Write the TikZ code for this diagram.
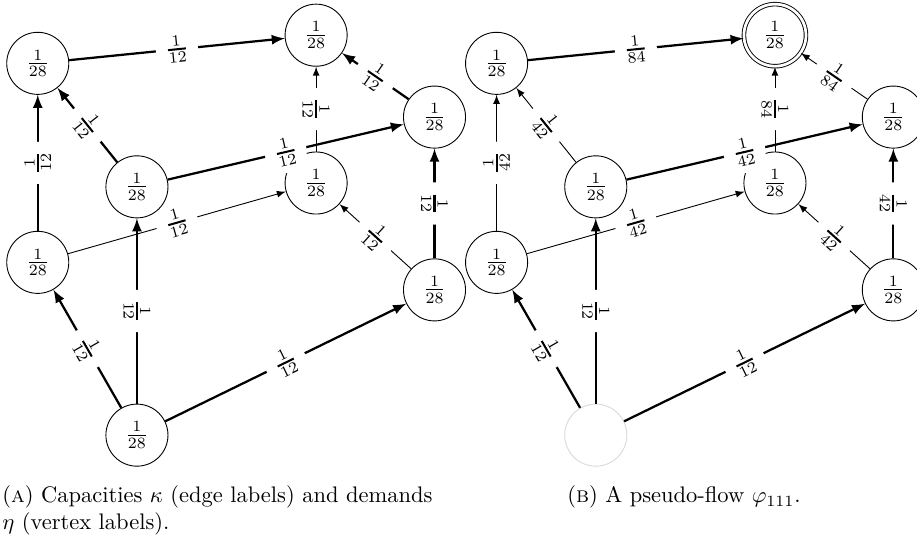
\documentclass[tikz,border=0pt]{standalone}
\usepackage{amssymb}
\usepackage{amsmath}
\usepackage{tikz}
\usetikzlibrary{arrows,calc,positioning}
\newcommand{\wfrac}[2]{\genfrac{}{}{0.9pt}{}{#1}{#2}}
\tikzset{%
	vertex/.style = {draw, circle, minimum size=0.97cm, inner sep=0pt},
	sink/.style   = {vertex, double, double distance=1.2pt},
	ghost/.style  = {draw=black!15, circle, minimum size=0.97cm, inner sep=0pt},
	weight/.style = {circle, fill=white, inner sep=0pt, minimum size=0.66cm},
	heavy/.style  = {-latex, line width=1pt},
	light/.style  = {-latex, line width=0.4pt},
}

\begin{document}
\begin{tikzpicture}
	\useasboundingbox (0,0) rectangle (14.33,8.55);
	
	% (a) capacities and demands
	\node[vertex] (la) at (0.59,7.56) {$\frac{1}{28}$};
	\node[vertex] (lb) at (4.94,8.00) {$\frac{1}{28}$};
	\node[vertex] (lc) at (6.79,6.72) {$\frac{1}{28}$};
	\node[vertex] (ld) at (2.14,5.63) {$\frac{1}{28}$};
	\node[vertex] (le) at (4.94,5.69) {$\frac{1}{28}$};
	\node[vertex] (lf) at (0.59,4.45) {$\frac{1}{28}$};
	\node[vertex] (lg) at (6.79,4.02) {$\frac{1}{28}$};
	\node[vertex] (lh) at (2.14,1.75) {$\frac{1}{28}$};
	
	\draw[heavy] (la) -- node[weight,sloped] {$\wfrac{1}{12}$} (lb);
	\draw[heavy] (lf) -- node[weight,rotate=90] {$\wfrac{1}{12}$} (la);
	\draw[heavy] (ld) -- node[weight,sloped] {$\wfrac{1}{12}$} (la);
	\draw[heavy] (ld) -- node[weight,sloped] {$\wfrac{1}{12}$} (lc);
	\draw[light] (lf) -- node[weight,sloped] {$\wfrac{1}{12}$} (le);
	\draw[light] (le) -- node[weight,rotate=-90] {$\wfrac{1}{12}$} (lb);
	\draw[heavy] (lc) -- node[weight,sloped] {$\wfrac{1}{12}$} (lb);
	\draw[light] (lg) -- node[weight,sloped] {$\wfrac{1}{12}$} (le);
	\draw[heavy] (lg) -- node[weight,rotate=-90] {$\wfrac{1}{12}$} (lc);
	\draw[heavy] (lh) -- node[weight,sloped] {$\wfrac{1}{12}$} (lf);
	\draw[heavy] (lh) -- node[weight,rotate=-90] {$\wfrac{1}{12}$} (ld);
	\draw[heavy] (lh) -- node[weight,sloped] {$\wfrac{1}{12}$} (lg);
	
	% (b) pseudo-flow
	\begin{scope}[xshift=7.17cm]
	\node[vertex] (ra) at (0.59,7.56) {$\frac{1}{28}$};
	\node[sink]   (rb) at (4.94,8.00) {$\frac{1}{28}$};
	\node[vertex] (rc) at (6.79,6.72) {$\frac{1}{28}$};
	\node[vertex] (rd) at (2.14,5.63) {$\frac{1}{28}$};
	\node[vertex] (re) at (4.94,5.69) {$\frac{1}{28}$};
	\node[vertex] (rf) at (0.59,4.45) {$\frac{1}{28}$};
	\node[vertex] (rg) at (6.79,4.02) {$\frac{1}{28}$};
	\node[ghost]  (rh) at (2.14,1.75) {};
	
	\draw[heavy] (ra) -- node[weight,sloped] {$\wfrac{1}{84}$} (rb);
	\draw[light] (rf) -- node[weight,rotate=90] {$\wfrac{1}{42}$} (ra);
	\draw[light] (rd) -- node[weight,sloped] {$\wfrac{1}{42}$} (ra);
	\draw[heavy] (rd) -- node[weight,sloped] {$\wfrac{1}{42}$} (rc);
	\draw[light] (rf) -- node[weight,sloped] {$\wfrac{1}{42}$} (re);
	\draw[light] (re) -- node[weight,rotate=-90] {$\wfrac{1}{84}$} (rb);
	\draw[light] (rc) -- node[weight,sloped] {$\wfrac{1}{84}$} (rb);
	\draw[light] (rg) -- node[weight,sloped] {$\wfrac{1}{42}$} (re);
	\draw[heavy] (rg) -- node[weight,rotate=-90] {$\wfrac{1}{42}$} (rc);
	\draw[heavy] (rh) -- node[weight,sloped] {$\wfrac{1}{12}$} (rf);
	\draw[heavy] (rh) -- node[weight,rotate=-90] {$\wfrac{1}{12}$} (rd);
	\draw[heavy] (rh) -- node[weight,sloped] {$\wfrac{1}{12}$} (rg);
	\end{scope}
	
	\node[anchor=base west,inner sep=0pt,align=left] (capa) at (0.03,0.27)
		{(\textsc{a}) Capacities $\kappa$ (edge labels) and demands\\$\eta$ (vertex labels).};
	\node[anchor=base west,inner sep=0pt] (capb) at (8.86,0.69)
		{(\textsc{b}) A pseudo-flow $\varphi_{111}$.};
\end{tikzpicture}
\end{document}
